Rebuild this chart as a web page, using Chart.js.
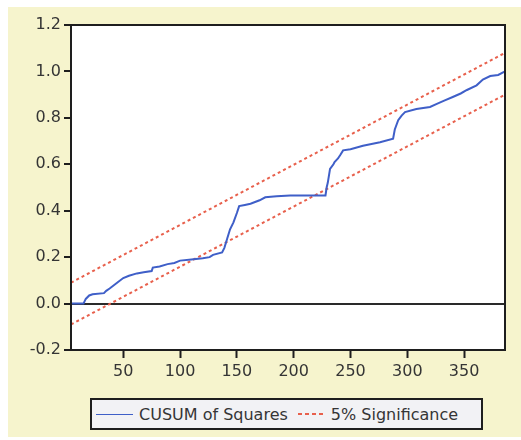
<!DOCTYPE html>
<html>
<head>
<meta charset="utf-8">
<title>CUSUM of Squares</title>
<script src="https://cdn.jsdelivr.net/npm/chart.js@4/dist/chart.umd.min.js"></script>
<style>
    html, body { margin: 0; padding: 0; background: #fff; }
    #wrap { position: relative; width: 521px; height: 440px; overflow: hidden; }
    #panel { position: absolute; left: 8px; top: 7px; right: 0; bottom: 3px; background: #f6f4cd; }
    #chart { position: absolute; left: 0; top: 0; }
    #legend {
        position: absolute; left: 90px; top: 398px; width: 389px; height: 28px;
        border: 2px solid #1e1e1e; background: #f2f2f5;
        font-family: 'DejaVu Sans', sans-serif; font-size: 16px; color: #353535;
        display: flex; align-items: center; white-space: nowrap;
    }
    #legend .blue { display: inline-block; width: 37px; height: 1px; background: #3f5fc8; margin: 0 6px 0 4px; }
    #legend .red {
        display: inline-block; width: 27px; height: 2px; margin: 0 6px 0 10px;
        background: repeating-linear-gradient(90deg, #e8604c 0 4px, transparent 4px 7px);
    }
</style>
</head>
<body>
<div id="wrap">
    <div id="panel"></div>
    <canvas id="chart" width="521" height="440"></canvas>
    <div id="legend">
        <span class="blue"></span><span>CUSUM of Squares</span>
        <span class="red"></span><span>5% Significance</span>
    </div>
</div>
<script>
(function () {
    'use strict';

    var obs = [4, 15, 17, 20, 23, 33, 35, 38, 42, 46, 50, 55, 62, 68, 75, 76, 82, 89, 95, 100,
        110, 120, 126, 129, 137, 139, 141.5, 144, 147, 150, 152, 157, 162, 170, 175, 185, 197, 228,
        229, 230, 232, 235, 236, 239, 241, 243.5, 250, 261, 276, 287.5, 289, 292, 295, 298, 308,
        320, 326, 333, 340, 347, 352.5, 361, 366.5, 373, 380, 386];
    var cusumSq = [0, 0, 0.02, 0.035, 0.04, 0.045, 0.055, 0.065, 0.08, 0.095, 0.11, 0.12, 0.13, 0.135, 0.14, 0.155, 0.16, 0.17, 0.175, 0.185,
        0.19, 0.195, 0.2, 0.21, 0.22, 0.24, 0.28, 0.32, 0.35, 0.39, 0.42, 0.425, 0.43, 0.445, 0.458, 0.462, 0.466, 0.466,
        0.5, 0.52, 0.58, 0.6, 0.61, 0.625, 0.64, 0.66, 0.665, 0.68, 0.695, 0.71, 0.75, 0.79, 0.81, 0.825, 0.838,
        0.847, 0.86, 0.875, 0.89, 0.905, 0.92, 0.94, 0.965, 0.98, 0.985, 1.0];

    // 5% significance bounds (straight lines, end points)
    var boundObs = [4, 386];
    var upperBound = [0.09, 1.08];
    var lowerBound = [-0.09, 0.9];

    var xTicks = [50, 100, 150, 200, 250, 300, 350];
    var yTicks = [-0.2, 0.0, 0.2, 0.4, 0.6, 0.8, 1.0, 1.2];

    function pairs(xs, ys) {
        return xs.map(function (x, i) { return { x: x, y: ys[i] }; });
    }

    // white plot area and box frame
    var frame = {
        id: 'frame',
        beforeDraw: function (chart) {
            var a = chart.chartArea, ctx = chart.ctx;
            ctx.save();
            ctx.fillStyle = '#ffffff';
            ctx.fillRect(a.left, a.top, a.right - a.left, a.bottom - a.top);
            ctx.restore();
        },
        afterDraw: function (chart) {
            var a = chart.chartArea, ctx = chart.ctx;
            ctx.save();
            ctx.strokeStyle = '#1e1e1e';
            ctx.lineWidth = 2;
            ctx.strokeRect(a.left, a.top, a.right - a.left, a.bottom - a.top);
            ctx.restore();
        }
    };

    var tickFont = { family: "'DejaVu Sans', sans-serif", size: 16 };

    new Chart(document.getElementById('chart'), {
        type: 'line',
        data: {
            datasets: [{
                label: 'CUSUM of Squares',
                data: pairs(obs, cusumSq),
                borderColor: '#3f5fc8',
                borderWidth: 2,
                pointRadius: 0,
                tension: 0
            }, {
                label: '5% Significance',
                data: pairs(boundObs, upperBound),
                borderColor: '#e8604c',
                borderWidth: 2,
                borderDash: [3, 3],
                pointRadius: 0
            }, {
                label: '5% Significance (lower)',
                data: pairs(boundObs, lowerBound),
                borderColor: '#e8604c',
                borderWidth: 2,
                borderDash: [3, 3],
                pointRadius: 0
            }]
        },
        options: {
            responsive: false,
            animation: false,
            layout: { padding: { left: 0, right: 16, top: 25, bottom: 50 } },
            plugins: { legend: { display: false }, tooltip: { enabled: false } },
            scales: {
                x: {
                    type: 'linear',
                    min: 4,
                    max: 386,
                    afterBuildTicks: function (scale) {
                        scale.ticks = xTicks.map(function (v) { return { value: v }; });
                    },
                    afterFit: function (scale) { scale.height = 40; },
                    border: { display: false },
                    grid: { drawOnChartArea: false, drawTicks: true, tickLength: 8, tickColor: '#1e1e1e', tickWidth: 2 },
                    ticks: { font: tickFont, color: '#353535', padding: 4, maxRotation: 0 }
                },
                y: {
                    min: -0.2,
                    max: 1.2,
                    afterBuildTicks: function (scale) {
                        scale.ticks = yTicks.map(function (v) { return { value: v }; });
                    },
                    afterFit: function (scale) { scale.width = 71; },
                    border: { display: false },
                    grid: {
                        drawOnChartArea: true,
                        drawTicks: true,
                        tickLength: 7,
                        tickColor: '#1e1e1e',
                        tickWidth: 2,
                        color: function (c) { return c.tick && Math.abs(c.tick.value) < 1e-9 ? '#2a2a2a' : 'rgba(0,0,0,0)'; },
                        lineWidth: 2
                    },
                    ticks: {
                        font: tickFont,
                        color: '#353535',
                        padding: 3,
                        callback: function (v) { return Number(v).toFixed(1); }
                    }
                }
            }
        },
        plugins: [frame]
    });
})();
</script>
</body>
</html>
